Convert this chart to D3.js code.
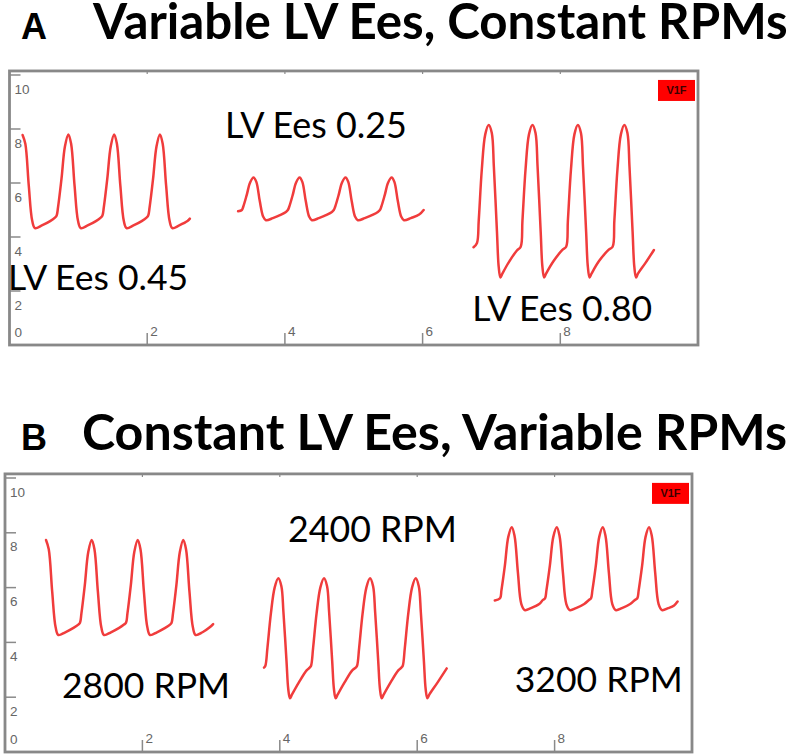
<!DOCTYPE html>
<html><head><meta charset="utf-8">
<script src="https://cdn.jsdelivr.net/npm/d3@7"></script>
<style>html,body{margin:0;padding:0;background:#fff}</style>
</head><body>
<svg id="c" width="800" height="755"></svg>
<script>
// ---------- data ----------
const panelLetters = ["A", "B"];
const panelTitles = ["Variable LV Ees, Constant RPMs", "Constant LV Ees, Variable RPMs"];
const xTicks = [2, 4, 6, 8];
const yTicks = [0, 2, 4, 6, 8, 10];
const badgeText = "V1F";

// Panel A traces: [time (s), value]
const ees045 = [[0.19,7.78],[0.23,7.45],[0.28,5.90],[0.33,4.60],[0.37,4.33],[0.47,4.43],[0.59,4.59],[0.66,4.72],
 [0.685,4.80],[0.705,5.10],[0.755,6.15],[0.805,7.35],[0.855,7.80],[0.895,7.45],[0.945,5.90],[0.995,4.60],[1.035,4.33],[1.135,4.43],[1.255,4.59],[1.325,4.72],
 [1.35,4.80],[1.37,5.10],[1.42,6.15],[1.47,7.35],[1.52,7.80],[1.56,7.45],[1.61,5.90],[1.66,4.60],[1.70,4.33],[1.80,4.43],[1.92,4.59],[1.99,4.72],
 [2.015,4.80],[2.035,5.10],[2.085,6.15],[2.135,7.35],[2.185,7.80],[2.225,7.45],[2.275,5.90],[2.325,4.60],[2.365,4.33],[2.465,4.43],[2.585,4.59],[2.62,4.68]];
const ees025 = [[3.32,4.95],[3.375,5.00],[3.395,5.12],[3.445,5.55],[3.495,6.02],[3.545,6.20],[3.585,6.04],[3.635,5.33],[3.685,4.75],[3.725,4.62],[3.825,4.70],[3.945,4.83],[4.015,4.93],
 [4.043,5.00],[4.063,5.12],[4.113,5.55],[4.163,6.02],[4.213,6.20],[4.253,6.04],[4.303,5.33],[4.353,4.75],[4.393,4.62],[4.493,4.70],[4.613,4.83],[4.683,4.93],
 [4.71,5.00],[4.73,5.12],[4.78,5.55],[4.83,6.02],[4.88,6.20],[4.92,6.04],[4.97,5.33],[5.02,4.75],[5.06,4.62],[5.16,4.70],[5.28,4.83],[5.35,4.93],
 [5.38,5.00],[5.40,5.12],[5.45,5.55],[5.50,6.02],[5.55,6.20],[5.59,6.04],[5.64,5.33],[5.69,4.75],[5.73,4.62],[5.83,4.70],[5.95,4.83],[6.015,5.00]];
const ees080 = [[6.74,3.62],[6.79,3.78],[6.815,4.6],[6.86,6.5],[6.91,7.8],[6.96,8.15],[7.005,7.85],[7.035,6.6],[7.08,4.2],[7.105,2.9],[7.13,2.5],[7.16,2.65],[7.26,3.1],[7.37,3.5],
 [7.425,3.64],[7.45,4.6],[7.495,6.5],[7.545,7.8],[7.595,8.15],[7.64,7.85],[7.67,6.6],[7.715,4.2],[7.74,2.9],[7.765,2.5],[7.795,2.65],[7.90,3.1],[8.03,3.52],
 [8.085,3.64],[8.11,4.6],[8.155,6.5],[8.205,7.8],[8.255,8.15],[8.30,7.85],[8.33,6.6],[8.375,4.2],[8.40,2.9],[8.425,2.5],[8.455,2.65],[8.56,3.1],[8.70,3.52],
 [8.76,3.64],[8.785,4.6],[8.83,6.5],[8.88,7.8],[8.93,8.15],[8.975,7.85],[9.005,6.6],[9.05,4.2],[9.075,2.9],[9.10,2.5],[9.13,2.65],[9.24,3.05],[9.36,3.52]];

// Panel B traces
const rpm2800 = [[0.597,7.74],[0.637,7.4],[0.687,5.85],[0.737,4.55],[0.777,4.27],[0.877,4.37],[0.997,4.53],[1.067,4.65],
 [1.092,4.72],[1.112,5.05],[1.162,6.1],[1.212,7.3],[1.262,7.74],[1.302,7.4],[1.352,5.85],[1.402,4.55],[1.442,4.27],[1.542,4.37],[1.662,4.53],[1.732,4.65],
 [1.762,4.72],[1.782,5.05],[1.832,6.1],[1.882,7.3],[1.932,7.74],[1.972,7.4],[2.022,5.85],[2.072,4.55],[2.112,4.27],[2.212,4.37],[2.332,4.53],[2.402,4.65],
 [2.425,4.72],[2.445,5.05],[2.495,6.1],[2.545,7.3],[2.595,7.74],[2.635,7.4],[2.685,5.85],[2.735,4.55],[2.775,4.27],[2.875,4.37],[2.98,4.55],[3.03,4.67]];
const rpm2400 = [[3.77,3.08],[3.79,3.15],[3.82,3.8],[3.87,5.05],[3.925,6.0],[3.978,6.34],[4.023,6.05],[4.053,5.1],[4.098,3.3],[4.123,2.3],[4.148,1.96],[4.178,2.1],[4.28,2.55],[4.39,2.98],
 [4.435,3.08],[4.455,3.15],[4.485,3.8],[4.535,5.05],[4.59,6.0],[4.643,6.34],[4.688,6.05],[4.718,5.1],[4.763,3.3],[4.788,2.3],[4.813,1.96],[4.843,2.1],[4.945,2.55],[5.055,2.98],
 [5.105,3.08],[5.125,3.15],[5.155,3.8],[5.205,5.05],[5.26,6.0],[5.313,6.34],[5.358,6.05],[5.388,5.1],[5.433,3.3],[5.458,2.3],[5.483,1.96],[5.513,2.1],[5.615,2.55],[5.725,2.98],
 [5.77,3.08],[5.79,3.15],[5.82,3.8],[5.87,5.05],[5.925,6.0],[5.978,6.34],[6.023,6.05],[6.053,5.1],[6.098,3.3],[6.123,2.3],[6.148,1.96],[6.178,2.1],[6.30,2.55],[6.43,3.05]];
const rpm3200 = [[7.13,5.53],[7.206,5.61],[7.226,5.9],[7.276,6.8],[7.326,7.85],[7.376,8.2],[7.416,7.9],[7.466,6.55],[7.516,5.4],[7.566,5.18],[7.656,5.25],[7.776,5.4],[7.83,5.55],
 [7.861,5.61],[7.881,5.9],[7.931,6.8],[7.981,7.85],[8.031,8.2],[8.071,7.9],[8.121,6.55],[8.171,5.4],[8.221,5.18],[8.311,5.25],[8.431,5.4],[8.50,5.55],
 [8.53,5.61],[8.55,5.9],[8.60,6.8],[8.65,7.85],[8.70,8.2],[8.74,7.9],[8.79,6.55],[8.84,5.4],[8.89,5.18],[8.98,5.25],[9.10,5.4],[9.17,5.55],
 [9.204,5.61],[9.224,5.9],[9.274,6.8],[9.324,7.85],[9.374,8.2],[9.414,7.9],[9.464,6.55],[9.514,5.4],[9.564,5.18],[9.654,5.25],[9.74,5.35],[9.79,5.49]];

const tracesA = [ees045, ees025, ees080];
const tracesB = [rpm2800, rpm2400, rpm3200];
const labelsA = ["LV Ees 0.45", "LV Ees 0.25", "LV Ees 0.80"];
const labelsB = ["2800 RPM", "2400 RPM", "3200 RPM"];

// ---------- drawing ----------
const svg = d3.select("#c");
svg.append("rect").attr("width",800).attr("height",755).attr("fill","#fff");

function fitText(sel, target){
  const fs = parseFloat(sel.attr("font-size"));
  const w = sel.node().getComputedTextLength();
  sel.attr("font-size", fs*target/w);
}

const panels = [
  {letter:panelLetters[0], title:panelTitles[0], titleX:93, titleW:695, base:39,
   xr:[9.5,698], yr:[345,75], traces:tracesA, labels:labelsA,
   labelPos:[[-0.02,2.04],[3.13,7.67],[6.72,0.89]], labelW:[180,182,180]},
  {letter:panelLetters[1], title:panelTitles[1], titleX:82, titleW:705, base:450,
   xr:[5,692], yr:[752,478], traces:tracesB, labels:labelsB,
   labelPos:[[0.83,1.97],[4.12,7.66],[7.42,2.19]], labelW:[168,169,168]}
];

panels.forEach(p => {
  const x = d3.scaleLinear().domain([0,10]).range(p.xr);
  const y = d3.scaleLinear().domain([0,10]).range(p.yr);
  const g = svg.append("g");

  // heading
  g.append("text").attr("x",21).attr("y",p.base).text(p.letter)
    .attr("font-family","Liberation Sans, Arial, sans-serif").attr("font-weight","bold")
    .attr("font-size",36).attr("fill","#000");
  const t = g.append("text").attr("x",p.titleX).attr("y",p.base).text(p.title)
    .attr("font-family","Lato, Carlito, sans-serif").attr("font-weight","bold")
    .attr("font-size",44).attr("fill","#000");
  fitText(t, p.titleW);

  const top = y(10.15), bot = y(0), left = x(0), right = x(10);

  // y ticks + labels
  yTicks.forEach(v => {
    if (v > 0) g.append("line").attr("x1",left).attr("x2",left+11).attr("y1",y(v)).attr("y2",y(v))
      .attr("stroke","#8a8a8a").attr("stroke-width",1.5);
    g.append("text").attr("x",left+5).attr("y", v===0 ? bot-12 : y(v)+15)
      .attr("dominant-baseline","middle").text(v)
      .attr("font-family","Liberation Sans, Arial, sans-serif").attr("font-size",13.5).attr("fill","#666");
  });
  // x ticks + labels
  xTicks.forEach(v => {
    g.append("line").attr("x1",x(v)).attr("x2",x(v)).attr("y1",bot).attr("y2",bot-12)
      .attr("stroke","#8a8a8a").attr("stroke-width",1.5);
    g.append("line").attr("x1",x(v)).attr("x2",x(v)).attr("y1",top).attr("y2",top+3)
      .attr("stroke","#8a8a8a").attr("stroke-width",1.2);
    g.append("text").attr("x",x(v)+3).attr("y",bot-13).attr("dominant-baseline","middle").text(v)
      .attr("font-family","Liberation Sans, Arial, sans-serif").attr("font-size",13.5).attr("fill","#666");
  });

  // frame
  g.append("rect").attr("x",left).attr("y",top).attr("width",right-left).attr("height",bot-top)
    .attr("fill","none").attr("stroke","#888").attr("stroke-width",2.8);

  // badge
  g.append("rect").attr("x",right-40).attr("y",top+9).attr("width",37).attr("height",21).attr("fill","#ff0000");
  g.append("text").attr("x",right-21.5).attr("y",top+20).attr("text-anchor","middle").attr("dominant-baseline","middle")
    .text(badgeText).attr("font-family","Liberation Sans Narrow, Liberation Sans, Arial, sans-serif")
    .attr("font-weight","bold").attr("font-size",11).attr("fill","#3a0000");

  // traces
  const line = d3.line().x(d=>x(d[0])).y(d=>y(d[1])).curve(d3.curveCatmullRom.alpha(0.5));
  p.traces.forEach(tr => {
    g.append("path").datum(tr).attr("d",line).attr("fill","none")
      .attr("stroke","#f03c3c").attr("stroke-width",2.5).attr("stroke-linejoin","round").attr("stroke-linecap","round");
  });

  // labels
  p.labels.forEach((lab,i) => {
    const tx = g.append("text").attr("x",x(p.labelPos[i][0])).attr("y",y(p.labelPos[i][1])).text(lab)
      .attr("font-family","Lato, Carlito, sans-serif").attr("font-size",33).attr("fill","#000");
    fitText(tx, p.labelW[i]);
  });
});
</script>
</body></html>
